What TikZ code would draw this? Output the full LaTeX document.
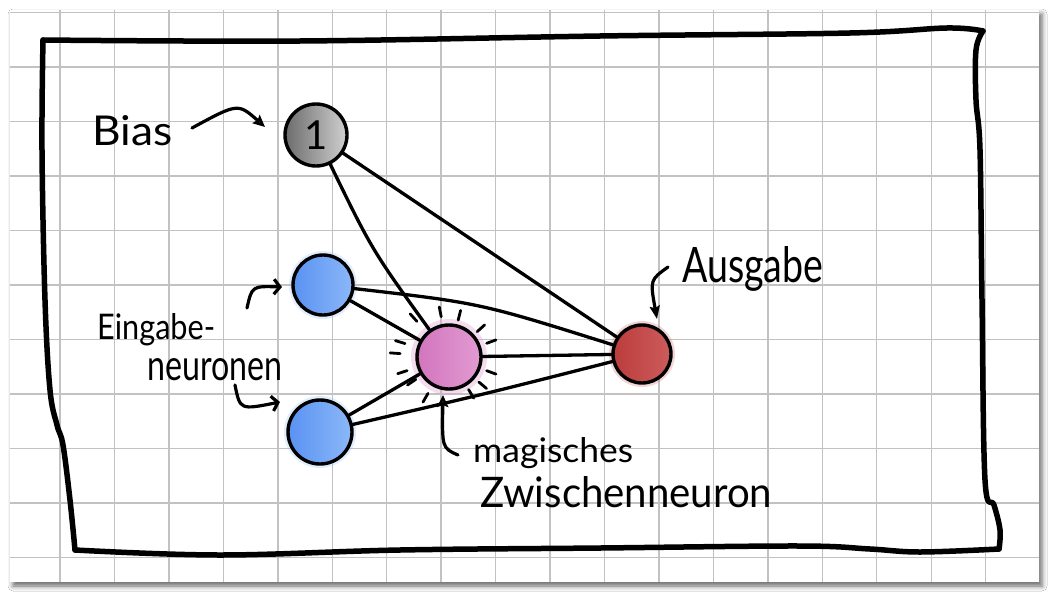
\documentclass[tikz,border=0pt]{standalone}
\usepackage{fontspec}
\setmainfont{Lato}
\usetikzlibrary{arrows.meta,shadows.blur,calc}
\definecolor{gridc}{HTML}{C2C2C2}
\definecolor{blueA}{HTML}{5A92F2}
\definecolor{blueB}{HTML}{8CB8F8}
\definecolor{pinkA}{HTML}{D275BE}
\definecolor{pinkB}{HTML}{E29BD2}
\definecolor{redA}{HTML}{BC3C3C}
\definecolor{redB}{HTML}{CC5C5C}
\definecolor{grayA}{HTML}{6C6C6C}
\definecolor{grayB}{HTML}{D0D0D0}
\newcommand\fitlabel[3]{\resizebox{#1}{#2}{#3}}
\begin{document}
\begin{tikzpicture}[x=1pt,y=-1pt,
  neuron/.style={circle,draw=black,line width=3.4pt,inner sep=0pt,minimum size=60pt},
  conn/.style={line width=3.3pt,line cap=round,black},
  frameline/.style={line width=5.5pt,line cap=round,line join=round,black},
  gridline/.style={line width=1.4pt,gridc},
  lbl/.style={inner sep=0pt,text=black,anchor=base west},
  harrow/.style={line width=3.2pt,line cap=round,line join=round,-{Stealth[length=12pt,width=11pt,inset=2pt]}},
  barb/.style={line width=3.2pt,line cap=round,line join=round,-{Straight Barb[length=6pt,width=15pt]}},
  openarrow/.style={line width=3.2pt,line cap=round,line join=round,-{Stealth[open,length=13pt,width=10pt,inset=2pt]}},
  raydash/.style={line width=2.8pt,line cap=round,black}]
\useasboundingbox (0,0) rectangle (1059,602);
\fill[white] (0,0) rectangle (1059,602);
% paper with shadow
\fill[white,blur shadow={shadow xshift=3pt,shadow yshift=-4pt,shadow blur radius=5pt,shadow opacity=60}] (10,10) rectangle (1039,582);
\begin{scope}
  \clip (10,10) rectangle (1039,582);
  \foreach \i in {0,...,18} \draw[gridline] ({60+54.45*\i},10) -- ({60+54.45*\i},582);
  \foreach \j in {0,...,10} \draw[gridline] (10,{12.5+54.5*\j}) -- (1039,{12.5+54.5*\j});
\end{scope}
% hand drawn frame
\draw[frameline] plot[smooth,tension=0.6] coordinates {(43,40) (300,41) (600,36) (850,33) (947,28) (983,31)};
\draw[frameline] plot[smooth,tension=0.6] coordinates {(983,31) (976,50) (976,100) (980,150) (982,300) (985,480) (994,505) (1000,530) (999,549)};
\draw[frameline] plot[smooth,tension=0.6] coordinates {(999,549) (920,552) (870,549) (800,546) (600,548) (400,550) (220,555) (75,550)};
\draw[frameline] plot[smooth,tension=0.6] coordinates {(75,550) (70,500) (63,445) (57,425) (50,390) (45,300) (42,150) (43,40)};
% soft halos
\fill[pinkB,opacity=0.35] (449,357) circle (38);
\fill[blueB,opacity=0.25] (323,285) circle (34);
\fill[blueB,opacity=0.25] (320,432) circle (36);
\fill[redB,opacity=0.25] (642,354) circle (33);
% neurons
\node[neuron,minimum size=62pt,left color=grayA,right color=grayB] (bias) at (316,135) {\fontsize{40}{40}\selectfont 1};
\node[neuron,left color=blueA,right color=blueB] (in1) at (323,285) {};
\node[neuron,minimum size=64pt,left color=blueA,right color=blueB] (in2) at (320,432) {};
\node[neuron,minimum size=64pt,left color=pinkA,right color=pinkB] (hid) at (449,357) {};
\node[neuron,minimum size=58pt,left color=redA,right color=redB] (out) at (642,354) {};
% connectors
\draw[conn] (bias) .. controls (372,250) .. (hid);
\draw[conn] (bias) -- (out);
\draw[conn] (in1) .. controls (480,303) .. (out);
\draw[conn] (in1) -- (hid);
\draw[conn] (hid) -- (out);
\draw[conn] (in2) -- (hid);
\draw[conn] (in2) .. controls (485,394) .. (out);
% rays around the hidden neuron
\foreach \a/\r/\s in {-132/48/58,-101/41/51,-76/38/48,-42/38/48,-20/40/50,20/40/50,40/39/49,59/38/48,120/42/52,146/40/50,162/44/54,-176/49/59,-163/46/56}
  \draw[raydash] ($(hid.center)+(\a:\r)$) -- ($(hid.center)+(\a:\s)$);
% labels
\node[lbl] (tbias) at (92,145) {\fitlabel{80pt}{30pt}{Bias}};
\node[lbl] (tein1) at (97,339) {\fitlabel{118pt}{26pt}{Eingabe-}};
\node[lbl] (tein2) at (147,380) {\fitlabel{135pt}{22pt}{neuronen}};
\node[lbl] (taus) at (682,282) {\fitlabel{141pt}{36pt}{Ausgabe}};
\node[lbl] (tmag) at (473,462) {\fitlabel{160pt}{25pt}{magisches}};
\node[lbl] (tzw) at (480,507) {\fitlabel{292pt}{31pt}{Zwischenneuron}};
% annotation arrows
\coordinate (a1s) at (192,128); \coordinate (a1e) at (265,127);
\draw[harrow] (a1s) .. controls (238,103) .. (a1e);
\coordinate (a2s) at (247,308); \coordinate (a2e) at (282,287);
\draw[barb] (a2s) .. controls (252,286) .. (a2e);
\coordinate (a3s) at (235,385); \coordinate (a3e) at (280,402);
\draw[barb] (a3s) .. controls (240,410) .. (a3e);
\coordinate (a4s) at (668,267); \coordinate (a4e) at (657,319);
\draw[openarrow] (a4s) .. controls (650,280) .. (a4e);
\coordinate (a5s) at (458,455); \coordinate (a5e) at (443,395);
\draw[harrow] (a5s) .. controls (442,448) .. (a5e);
\end{tikzpicture}
\end{document}
